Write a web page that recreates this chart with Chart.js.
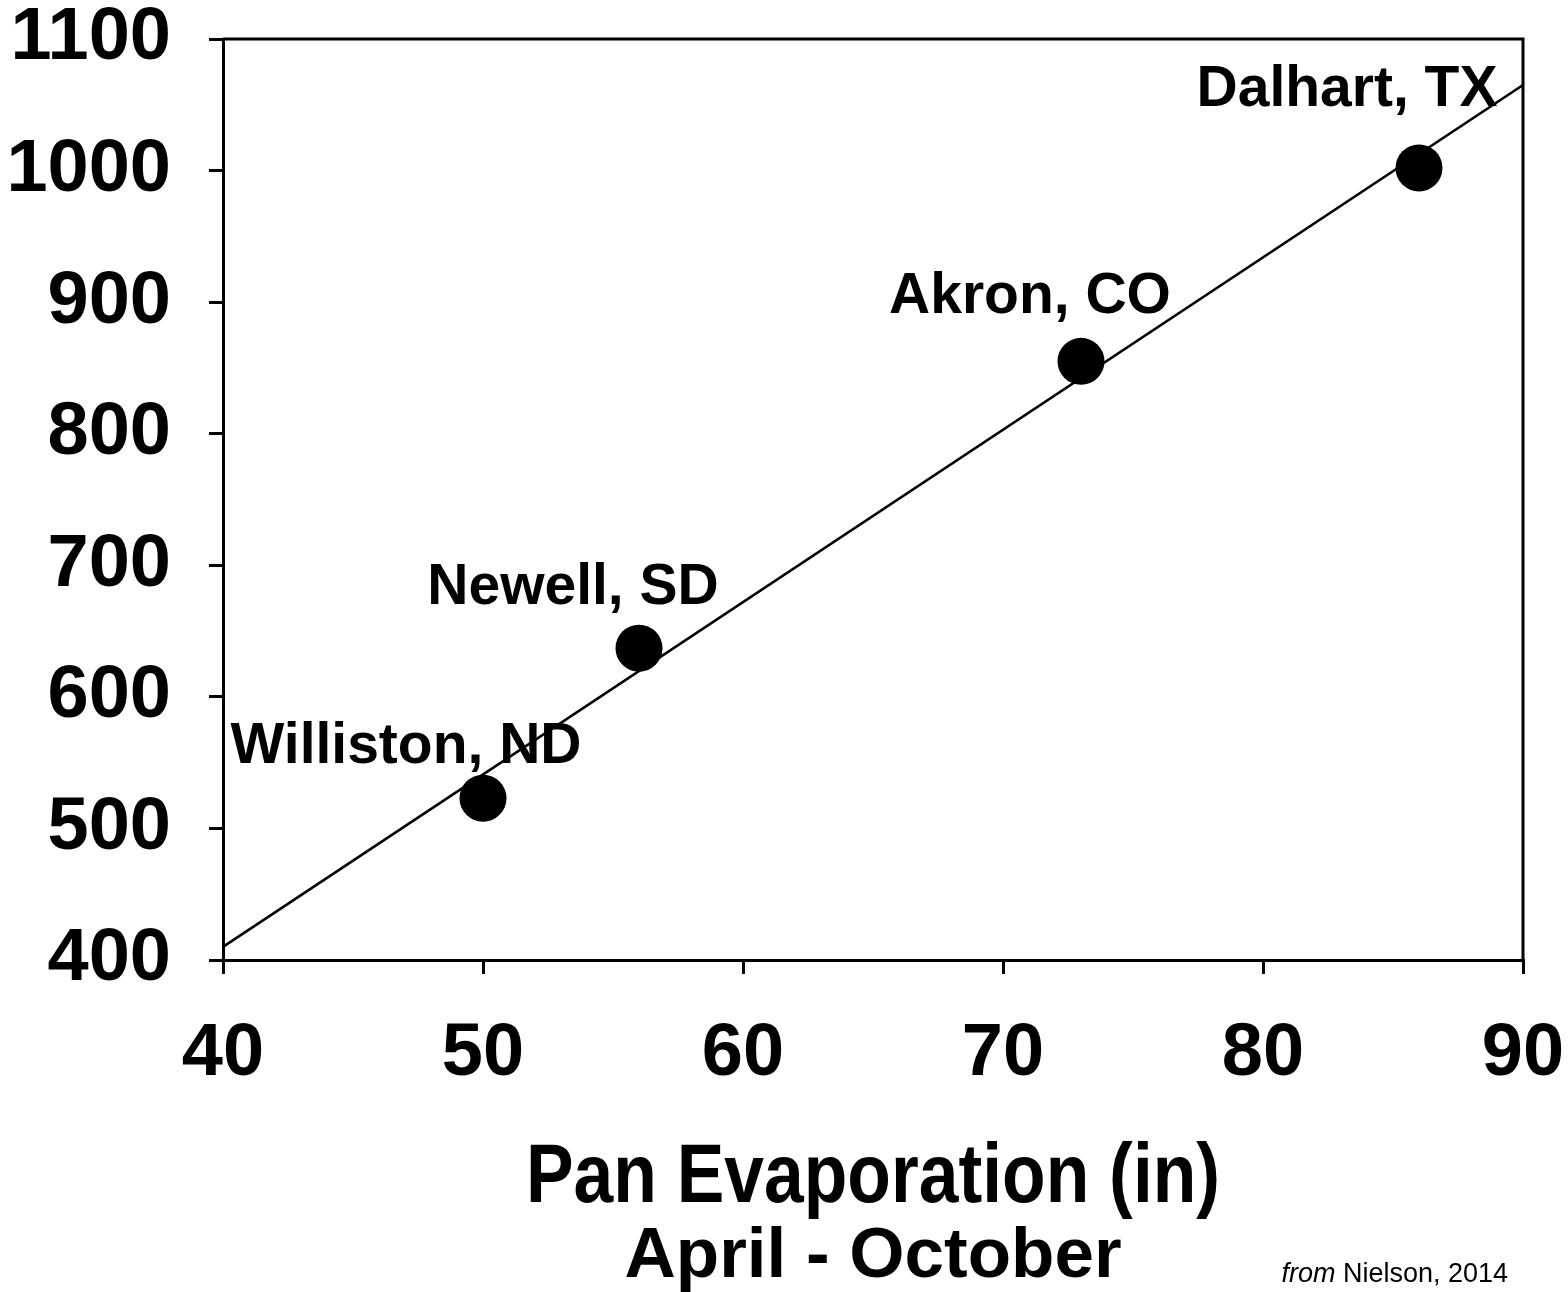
<!DOCTYPE html>
<html>
<head>
<meta charset="utf-8">
<script src="https://cdn.jsdelivr.net/npm/chart.js@4.4.1/dist/chart.umd.min.js"></script>
<style>
  html, body { margin: 0; padding: 0; background: #fff; }
  #wrap { width: 1568px; height: 1292px; }
</style>
</head>
<body>
<div id="wrap"><canvas id="evapChart" width="1568" height="1292"></canvas></div>
<script>
// Site data
const sites = ["Williston, ND", "Newell, SD", "Akron, CO", "Dalhart, TX"];
const panEvap = [50, 56, 73, 86];          // in, April - October
const yieldVals = [523, 637, 855, 1002];   // y values
// fitted line end points
const trendX = [40, 90];
const trendY = [410, 1065];

const xTicks = [40, 50, 60, 70, 80, 90];
const yTicks = [400, 500, 600, 700, 800, 900, 1000, 1100];

const xTitleLines = ["Pan Evaporation (in)", "April - October"];
const sourceNote = { italic: "from", rest: " Nielson, 2014" };

const FONT = "'Liberation Sans', Arial, Helvetica, sans-serif";

// label offsets (px) from each point: text centre, baseline
const labelOffsets = [[-77, -35], [-66, -44], [-51, -48], [-72, -62]];

/**
 * Site name labels next to each point
 */
const siteLabels = {
  id: "siteLabels",
  afterDatasetsDraw(chart) {
    const ctx = chart.ctx;
    const meta = chart.getDatasetMeta(1);
    ctx.save();
    ctx.font = "bold 57px " + FONT;
    ctx.fillStyle = "#000";
    ctx.textAlign = "center";
    ctx.textBaseline = "alphabetic";
    meta.data.forEach((pt, i) => {
      ctx.fillText(sites[i], pt.x + labelOffsets[i][0], pt.y + labelOffsets[i][1]);
    });
    ctx.restore();
  }
};

/**
 * Box border (top/right) plus axis title and source note
 */
const frameAndTitles = {
  id: "frameAndTitles",
  afterDraw(chart) {
    const ctx = chart.ctx;
    const a = chart.chartArea;
    ctx.save();
    ctx.strokeStyle = "#000";
    ctx.lineWidth = 3;
    ctx.beginPath();
    ctx.moveTo(a.left, a.top);
    ctx.lineTo(a.right, a.top);
    ctx.lineTo(a.right, a.bottom);
    ctx.stroke();

    const cx = (a.left + a.right) / 2;
    ctx.fillStyle = "#000";
    ctx.textAlign = "center";
    ctx.textBaseline = "alphabetic";

    // first line is set in a narrow face in the original
    ctx.save();
    ctx.translate(cx, 1202);
    ctx.scale(0.85, 1);
    ctx.font = "bold 84px " + FONT;
    ctx.fillText(xTitleLines[0], 0, 0);
    ctx.restore();

    ctx.font = "bold 71px " + FONT;
    ctx.fillText(xTitleLines[1], cx, 1277);

    // source note, right aligned
    ctx.textAlign = "left";
    ctx.font = "27px " + FONT;
    const restW = ctx.measureText(sourceNote.rest).width;
    ctx.font = "italic 27px " + FONT;
    const itW = ctx.measureText(sourceNote.italic).width;
    const x0 = 1508 - restW - itW;
    ctx.fillText(sourceNote.italic, x0, 1282);
    ctx.font = "27px " + FONT;
    ctx.fillText(sourceNote.rest, x0 + itW, 1282);
    ctx.restore();
  }
};

const axisCommon = {
  grid: {
    display: true,
    drawOnChartArea: false,
    drawTicks: true,
    tickLength: 14,
    color: "#000",
    lineWidth: 3
  },
  border: {
    display: true,
    color: "#000",
    width: 3
  }
};

new Chart(document.getElementById("evapChart"), {
  type: "scatter",
  data: {
    datasets: [
      {
        type: "line",
        label: "Fit",
        data: trendX.map((x, i) => ({ x: x, y: trendY[i] })),
        borderColor: "#000",
        borderWidth: 2.5,
        pointRadius: 0,
        fill: false,
        tension: 0
      },
      {
        label: "Sites",
        data: panEvap.map((x, i) => ({ x: x, y: yieldVals[i] })),
        backgroundColor: "#000",
        borderColor: "#000",
        pointRadius: 23.5,
        pointHoverRadius: 23.5,
        borderWidth: 0
      }
    ]
  },
  options: {
    responsive: false,
    animation: false,
    layout: {
      padding: { top: 39, right: 45, left: 0, bottom: 0 }
    },
    scales: {
      x: {
        ...axisCommon,
        type: "linear",
        min: 40,
        max: 90,
        afterBuildTicks(scale) {
          scale.ticks = xTicks.map(v => ({ value: v }));
        },
        afterFit(scale) {
          scale.height = 332;
          scale.paddingLeft = 0;
          scale.paddingRight = 0;
        },
        ticks: {
          color: "#000",
          padding: 36,
          maxRotation: 0,
          callback: v => String(v),
          font: { family: FONT, size: 74, weight: "bold" }
        }
      },
      y: {
        ...axisCommon,
        type: "linear",
        min: 400,
        max: 1100,
        afterBuildTicks(scale) {
          scale.ticks = yTicks.map(v => ({ value: v }));
        },
        afterFit(scale) {
          scale.width = 223;
          scale.paddingTop = 0;
          scale.paddingBottom = 0;
        },
        ticks: {
          color: "#000",
          padding: 38,
          callback: v => String(v),
          font: { family: FONT, size: 74, weight: "bold" }
        }
      }
    },
    plugins: {
      legend: { display: false },
      tooltip: { enabled: false }
    }
  },
  plugins: [siteLabels, frameAndTitles]
});
</script>
</body>
</html>
